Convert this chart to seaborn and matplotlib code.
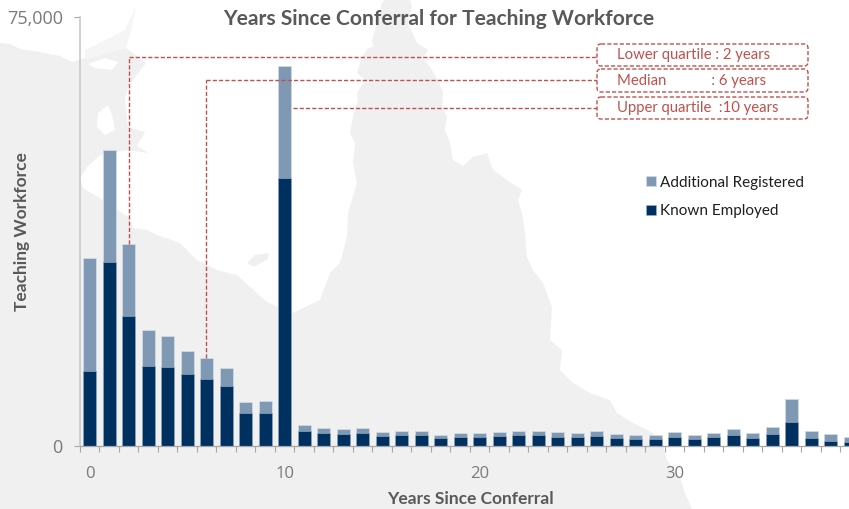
import numpy as np
import pandas as pd
import matplotlib.pyplot as plt
import seaborn as sns
from matplotlib.patches import Polygon, FancyBboxPatch
from matplotlib.transforms import Affine2D

sns.set_theme(style="white")
plt.rcParams['font.family'] = ['Lato', 'DejaVu Sans']

years = list(range(40))
known_employed = [13100, 32100, 22700, 14000, 13900, 12600, 11700, 10500, 5760, 5870,
                  46900, 2720, 2270, 2150, 2270, 1800, 1920, 1920, 1450, 1680,
                  1680, 1800, 1920, 1920, 1680, 1570, 1800, 1450, 1330, 1330,
                  1680, 1330, 1570, 2030, 1450, 2150, 4240, 1450, 980, 750]
additional_registered = [19800, 19600, 12570, 6340, 5310, 4020, 3660, 3090, 1970, 2090,
                         19500, 950, 870, 820, 870, 700, 700, 700, 580, 590,
                         690, 700, 700, 800, 820, 700, 820, 700, 700, 700,
                         820, 590, 800, 1040, 820, 1170, 3970, 1270, 1170, 930]
quartile_labels = ["Lower quartile : 2 years", "Median            : 6 years", "Upper quartile  :10 years"]
quartile_years = [2, 6, 10]
leader_levels = [68050, 63950, 59060]
y_ticks = [0, 75000]
x_labels = [0, 10, 20, 30]

known_col = "#00305f"
extra_col = "#7f99b4"
red = "#c0504d"
grey_txt = "#595959"
tick_txt = "#7a7a7a"
land = "#f0f0f0"

df = pd.DataFrame({"year": years, "known": known_employed, "extra": additional_registered})
df["total"] = df["known"] + df["extra"]

fig = plt.figure(figsize=(8.49, 5.09), dpi=100, facecolor="white")
ax = fig.add_axes([80 / 849, 1 - 446.3 / 509, 769 / 849, 429.6 / 509])
ax.patch.set_alpha(0)

# everything decorative is placed in reference pixels
px = Affine2D().scale(1 / 849, -1 / 509).translate(0, 1) + fig.transFigure

# faint map behind the chart
map_outline = [
    (0, 509), (0, 43), (10, 44), (20, 49), (40, 52), (60, 56), (72, 62), (85, 58), (126, 48),
    (146, 63), (128, 87), (125, 100), (128, 127), (145, 132), (137, 146), (148, 153), (128, 150),
    (100, 155), (87, 167),
    (80, 178), (83, 188), (103, 200), (128, 217), (133, 228), (147, 230), (157, 235), (180, 243),
    (197, 260), (217, 270), (237, 275), (248, 285), (267, 302), (293, 313), (320, 300), (330, 273),
    (340, 263), (347, 237), (348, 213), (357, 183), (353, 163), (355, 143), (350, 133), (353, 117),
    (358, 100), (357, 93), (365, 80), (357, 73), (362, 57), (368, 48), (373, 47), (372, 40),
    (378, 20), (382, 3), (385, 0), (410, 0), (412, 7), (408, 23), (417, 43), (428, 50), (423, 58),
    (430, 67), (438, 80), (443, 93), (442, 107), (447, 117), (445, 130), (450, 143), (453, 160),
    (463, 166), (473, 157), (487, 153), (493, 170), (507, 180), (522, 190), (518, 200), (522, 213),
    (525, 233), (527, 257), (533, 270), (543, 283), (552, 307), (550, 340), (562, 350), (560, 370),
    (573, 383), (590, 393), (610, 400), (617, 413), (633, 423), (653, 433), (663, 447), (667, 460),
    (680, 477), (685, 493), (692, 509),
]
fig.add_artist(Polygon(map_outline, closed=True, fc=land, ec="none", transform=px, zorder=-5))
# strip running up to the top of the picture
fig.add_artist(Polygon([(85, 50), (125, 30), (136, 7), (131, 30), (126, 48), (85, 60)], closed=True,
                       fc="#f5f5f5", ec="none", transform=px, zorder=-5))
# island, and the two white lakes in the top left land
fig.add_artist(Polygon([(247, 263), (255, 255), (269, 253), (268, 259), (254, 267)], closed=True,
                       fc=land, ec="none", transform=px, zorder=-5))
fig.add_artist(Polygon([(98, 113), (108, 105), (112, 115), (115, 130), (105, 135), (97, 127)], closed=True,
                       fc="white", ec="none", transform=px, zorder=-4))
fig.add_artist(Polygon([(88, 64), (105, 58), (118, 62), (112, 70), (95, 68)], closed=True,
                       fc="white", ec="none", transform=px, zorder=-4))

# stacked bars, total first and known over it
sns.barplot(data=df, x="year", y="total", color=extra_col, saturation=1, width=0.67,
            edgecolor="#cfdae5", linewidth=0.6, label="Additional Registered", ax=ax)
sns.barplot(data=df, x="year", y="known", color=known_col, saturation=1, width=0.67,
            edgecolor="#9fb3c8", linewidth=0.4, label="Known Employed", ax=ax)

ax.set_xlim(-0.5, 38.94)
ax.set_ylim(0, 75000)
ax.set_xlabel("")
ax.set_ylabel("")
ax.set_yticks(y_ticks)
ax.set_yticklabels([f"{v:,}" for v in y_ticks], fontsize=13, color=tick_txt, family="Open Sans")
ax.set_xticks(x_labels)
ax.set_xticklabels(x_labels, fontsize=12, color=tick_txt, family="Open Sans")
ax.set_xticks(np.arange(-0.5, 39), minor=True)
ax.tick_params(axis="x", which="major", length=0, pad=14)
ax.tick_params(axis="x", which="minor", bottom=True, length=4.5, width=0.8, color="#a6a6a6")
ax.tick_params(axis="y", left=True, length=4.5, width=0.8, color="#a6a6a6", pad=8)
sns.despine(ax=ax)
ax.spines["left"].set_color("#c8c8c8")
ax.spines["left"].set_linewidth(1.2)
ax.spines["bottom"].set_color("#a6a6a6")
ax.spines["bottom"].set_linewidth(0.9)

# quartile leaders
leader = dict(color=red, lw=1.0, ls=(0, (3, 1.5)), clip_on=False, zorder=5)
ends = [df["total"][quartile_years[0]], df["total"][quartile_years[1]]]
ax.plot([quartile_years[0]] * 2, [ends[0], leader_levels[0]], **leader)
ax.plot([quartile_years[1] - 0.05] * 2, [ends[1], leader_levels[1]], **leader)
ax.plot([quartile_years[0], 26], [leader_levels[0]] * 2, **leader)
ax.plot([quartile_years[1] - 0.05, 26], [leader_levels[1]] * 2, **leader)
ax.plot([quartile_years[2] + 0.42, 26], [leader_levels[2]] * 2, **leader)

for (top, bottom), text in zip([(44, 66), (69, 92), (97, 119)], quartile_labels):
    fig.add_artist(FancyBboxPatch((600, top + 3), 205, bottom - top - 6,
                                  boxstyle="round,pad=3,rounding_size=4", fc="white", ec=red,
                                  lw=1.0, ls=(0, (3, 1.5)), transform=px, zorder=6,
                                  mutation_aspect=1))
    fig.text(617 / 849, 1 - (top + bottom) / 2 / 509, text, color=red, fontsize=10.7,
             va="center", ha="left", zorder=7)

handles, labels = ax.get_legend_handles_labels()
leg = ax.legend(handles, labels, frameon=False, loc="upper left",
                bbox_to_anchor=((640 - 80) / 769, (446.3 - 169.5) / 429.6), borderaxespad=0,
                handlelength=0.65, handleheight=0.65, handletextpad=0.25, labelspacing=0.95,
                prop={"size": 11})
for t in leg.get_texts():
    t.set_color("#1f1f1f")

fig.text(439 / 849, 1 - 19 / 509, "Years Since Conferral for Teaching Workforce", fontsize=15.1,
         fontweight="bold", color=grey_txt, ha="center", va="center")
fig.text(22 / 849, 1 - 232 / 509, "Teaching Workforce", fontsize=12.5, fontweight="bold",
         color=grey_txt, rotation=90, ha="center", va="center")
fig.text(470 / 849, 1 - 499 / 509, "Years Since Conferral", fontsize=12.5, fontweight="bold",
         color=grey_txt, ha="center", va="center")

fig.savefig("out.png", dpi=100)
plt.close(fig)
